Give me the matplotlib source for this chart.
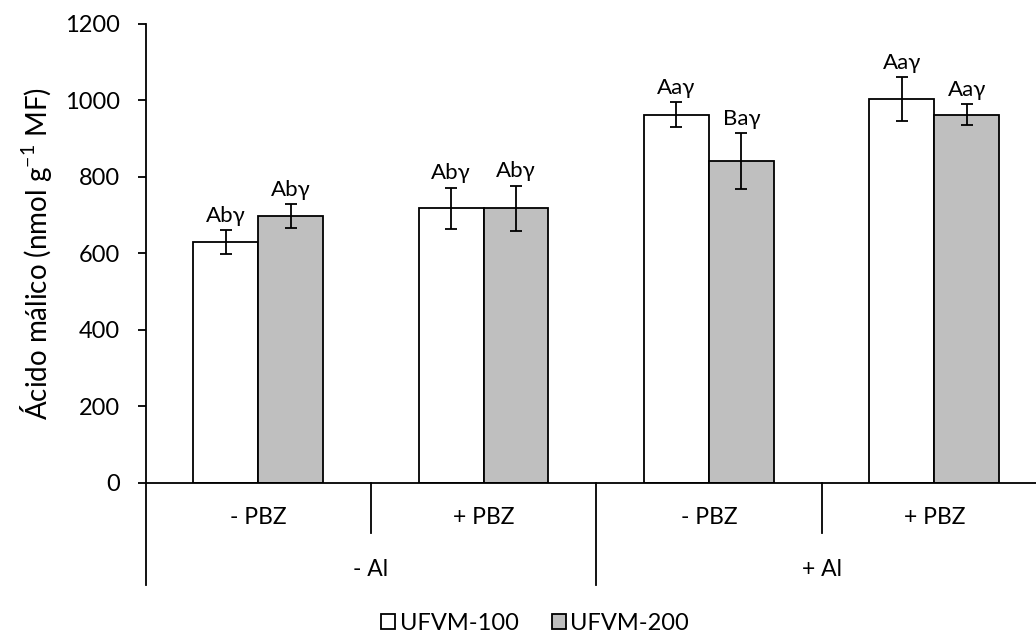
import matplotlib
matplotlib.use('Agg')
import matplotlib.pyplot as plt
import numpy as np

# Data
groups = ['- PBZ', '+ PBZ', '- PBZ', '+ PBZ']
al_labels = ['- Al', '+ Al']
series_names = ['UFVM-100', 'UFVM-200']
ufvm100 = [630, 718, 963, 1003]
ufvm200 = [697, 718, 842, 963]
err100 = [31, 54, 32, 58]
err200 = [32, 59, 73, 28]
letters100 = ['Abγ', 'Abγ', 'Aaγ', 'Aaγ']
letters200 = ['Abγ', 'Abγ', 'Baγ', 'Aaγ']

plt.rcParams['font.family'] = ['Lato', 'DejaVu Sans']
plt.rcParams['mathtext.fontset'] = 'custom'
plt.rcParams['mathtext.rm'] = 'Lato'

W, H = 1036, 634
fig = plt.figure(figsize=(W / 100, H / 100), dpi=100)
ax = fig.add_axes([145.5 / W, (H - 482.5) / H, (1047 - 145.5) / W, (482.5 - 24) / H])

x = np.arange(len(groups))
bw = 0.288
kw = dict(edgecolor='black', linewidth=1.3, zorder=2)
b1 = ax.bar(x - bw / 2, ufvm100, bw, color='white', label=series_names[0], **kw)
b2 = ax.bar(x + bw / 2, ufvm200, bw, color='#bfbfbf', label=series_names[1], **kw)
ekw = dict(fmt='none', ecolor='black', elinewidth=1.3, capsize=4.3, capthick=1.3, zorder=3)
ax.errorbar(x - bw / 2, ufvm100, yerr=err100, **ekw)
ax.errorbar(x + bw / 2, ufvm200, yerr=err200, **ekw)

for xs, vals, errs, labs in [(x - bw / 2, ufvm100, err100, letters100),
                             (x + bw / 2, ufvm200, err200, letters200)]:
    for xi, v, e, t in zip(xs, vals, errs, labs):
        ax.annotate(t, (xi, v + e), xytext=(0, 3), textcoords='offset points',
                    ha='center', va='bottom', fontsize=16)

ax.set_xlim(-0.5, len(groups) - 0.5)
ax.set_ylim(0, 1200)
ax.set_yticks(np.arange(0, 1201, 200))
ax.tick_params(axis='y', direction='out', length=5.5, width=1.3, pad=13, labelsize=17)
ax.set_xticks([])
for s in ['top', 'right']:
    ax.spines[s].set_visible(False)
ax.spines['left'].set_linewidth(1.3)
ax.spines['bottom'].set_linewidth(1.3)
ax.set_ylabel('Ácido málico (nmol g$^{\\mathregular{-1}}$ MF)', fontsize=20, labelpad=8)

# multi-level category axis
ah = 458.5
trans = ax.get_xaxis_transform()
for i in range(len(groups) + 1):
    depth = (585 - 482.5) / ah if i % 2 == 0 else (533 - 482.5) / ah
    ax.plot([i - 0.5, i - 0.5], [0, -depth], transform=trans, color='black',
            lw=1.3, clip_on=False)
for i, g in enumerate(groups):
    ax.text(i, -(518 - 482.5) / ah, g, transform=trans, ha='center', va='center', fontsize=16.5)
for j, a in enumerate(al_labels):
    ax.text(2 * j + 0.5, -(569 - 482.5) / ah, a, transform=trans, ha='center', va='center', fontsize=16.5)

fig.legend(handles=[b1, b2], loc='center', bbox_to_anchor=(535 / W, 1 - 623 / H),
           ncol=2, frameon=False, fontsize=17, handlelength=0.6, handleheight=0.6,
           handletextpad=0.2, columnspacing=1.4)

fig.savefig('out.png', dpi=100)
